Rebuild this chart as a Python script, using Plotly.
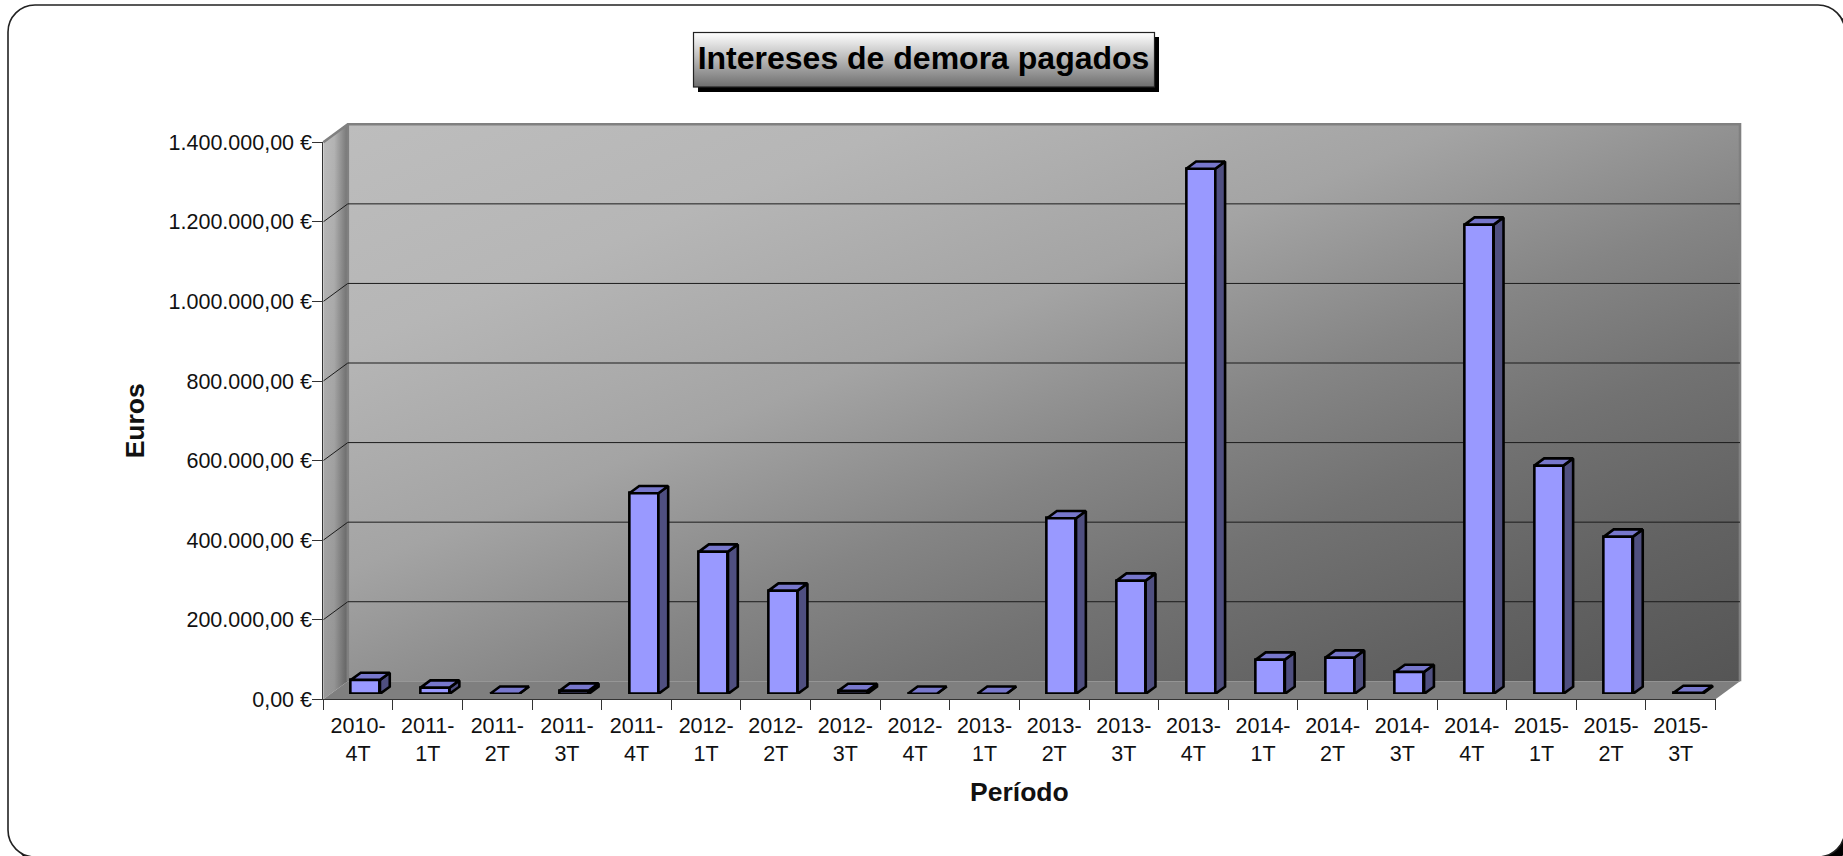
import base64
import plotly.graph_objects as go

# ---- data ----
periods = ["2010-4T", "2011-1T", "2011-2T", "2011-3T", "2011-4T", "2012-1T", "2012-2T",
           "2012-3T", "2012-4T", "2013-1T", "2013-2T", "2013-3T", "2013-4T", "2014-1T",
           "2014-2T", "2014-3T", "2014-4T", "2015-1T", "2015-2T", "2015-3T"]
values = [35200, 15800, 500, 8300, 504500, 357700, 259700, 7500, 500, 500, 441600,
          284800, 1320000, 86200, 91200, 55300, 1179600, 573800, 395400, 2500]
y_ticks = [0, 200000, 400000, 600000, 800000, 1000000, 1200000, 1400000]
y_tick_labels = ["0,00 €", "200.000,00 €", "400.000,00 €", "600.000,00 €", "800.000,00 €",
                 "1.000.000,00 €", "1.200.000,00 €", "1.400.000,00 €"]
title_text = "Intereses de demora pagados"
x_title = "Período"
y_title = "Euros"

# ---- layout geometry (pixels) ----
W, H = 1843, 856
L, R, T, B = 323.3, 1715.5, 142.3, 699.3
DX, DY = 24.5, 18.0              # 3D depth of the chart box
BAR_SHIFT = 0.30                 # bar front plane, share of the depth
BAR_DEPTH = 0.40                 # bar depth, share of the box depth
BAR_W_PX = 29.0

n = len(periods)
xrange_ = [-0.5, n - 0.5]
yrange_ = [0, 1400000]
px_x = (R - L) / n
px_y = (B - T) / yrange_[1]
FONT = "Liberation Sans"
INK = "#111111"
OUTLINE = 2.6


def background_svg():
    lw = f"{L},{B} {L + DX},{B - DY} {L + DX},{T - DY} {L},{T}"
    fl = f"{L},{B} {R},{B} {R + DX},{B - DY} {L + DX},{B - DY}"
    s = f"""<svg xmlns="http://www.w3.org/2000/svg" width="{W}" height="{H}" viewBox="0 0 {W} {H}">
<defs>
<linearGradient id="back" x1="0" y1="0" x2="1" y2="1">
<stop offset="0" stop-color="#bdbdbd"/><stop offset="0.2" stop-color="#b6b6b6"/>
<stop offset="0.4" stop-color="#a4a4a4"/><stop offset="0.57" stop-color="#858585"/>
<stop offset="0.7" stop-color="#727272"/><stop offset="0.85" stop-color="#626262"/>
<stop offset="1" stop-color="#555555"/></linearGradient>
<linearGradient id="sideV" x1="0" y1="0" x2="0" y2="1">
<stop offset="0" stop-color="#bdbdbd"/><stop offset="1" stop-color="#9a9a9a"/></linearGradient>
<linearGradient id="sideH" x1="0" y1="0" x2="1" y2="0">
<stop offset="0" stop-color="#000" stop-opacity="0"/><stop offset="0.45" stop-color="#000" stop-opacity="0.05"/>
<stop offset="1" stop-color="#000" stop-opacity="0.38"/></linearGradient>
<linearGradient id="ttl" x1="0" y1="0" x2="0" y2="1">
<stop offset="0" stop-color="#ffffff"/><stop offset="1" stop-color="#6e6e6e"/></linearGradient>
</defs>
<rect x="14" y="11" width="1837" height="852" rx="27" ry="27" fill="#000"/>
<rect x="8" y="5" width="1837" height="852" rx="27" ry="27" fill="#fff" stroke="#222" stroke-width="1.6"/>
<rect x="{L + DX}" y="{T - DY}" width="{R - L}" height="{B - T}" fill="url(#back)"/>
<polygon points="{lw}" fill="url(#sideV)"/>
<polygon points="{lw}" fill="url(#sideH)"/>
<polygon points="{fl}" fill="#7f7f7f"/>
<path d="M{L},{T} L{L + DX},{T - DY} L{R + DX},{T - DY} L{R + DX},{B - DY} M{L + DX},{T - DY} L{L + DX},{B - DY}"
 fill="none" stroke="#808080" stroke-width="2.6"/>
<rect x="698" y="37" width="461" height="55" fill="#000"/>
<rect x="693.5" y="32.5" width="461" height="54.5" fill="url(#ttl)" stroke="#222" stroke-width="1.2"/>
</svg>"""
    return "data:image/svg+xml;base64," + base64.b64encode(s.encode()).decode()


x_idx = list(range(n))
tick_labels = [p.replace("-", "-<br>") for p in periods]

# depth expressed in data units
dx_box, dy_box = DX / px_x, DY / px_y
dx_bar, dy_bar = BAR_DEPTH * DX / px_x, BAR_DEPTH * DY / px_y
bar_w = BAR_W_PX / px_x

# grid lines: diagonals on the side wall, horizontals on the back wall
dgx, dgy, bgx, bgy = [], [], [], []
for v in y_ticks:
    if 0 < v < yrange_[1]:
        dgx += [xrange_[0], xrange_[0] + dx_box, None]
        dgy += [v, v + dy_box, None]
        bgx += [xrange_[0], xrange_[1], None]
        bgy += [v, v, None]

# bar side and top faces
sx, sy, tx, ty = [], [], [], []
for i, v in zip(x_idx, values):
    a, b = i - bar_w / 2, i + bar_w / 2
    sx += [b, b + dx_bar, b + dx_bar, b, b, None]
    sy += [0, dy_bar, v + dy_bar, v, 0, None]
    tx += [a, b, b + dx_bar, a + dx_bar, a, None]
    ty += [v, v, v + dy_bar, v + dy_bar, v, None]

grid_line = dict(color="#1c1c1c", width=1)
fig = go.Figure()
fig.add_trace(go.Scatter(x=dgx, y=dgy, mode="lines", cliponaxis=False, hoverinfo="skip",
                         line=grid_line, showlegend=False))
fig.add_trace(go.Scatter(x=bgx, y=bgy, xaxis="x2", yaxis="y2", mode="lines", cliponaxis=False, hoverinfo="skip",
                         line=grid_line, showlegend=False))
fig.add_trace(go.Bar(x=x_idx, y=values, width=bar_w, xaxis="x3", yaxis="y3", cliponaxis=False,
                     marker=dict(color="#9999ff", line=dict(color="#000000", width=OUTLINE)),
                     showlegend=False, name="Intereses"))
fig.add_trace(go.Scatter(x=sx, y=sy, xaxis="x3", yaxis="y3", mode="lines", fill="toself", cliponaxis=False,
                         fillcolor="#4f4f80", line=dict(color="#000000", width=OUTLINE), hoverinfo="skip",
                         showlegend=False))
fig.add_trace(go.Scatter(x=tx, y=ty, xaxis="x3", yaxis="y3", mode="lines", fill="toself", cliponaxis=False,
                         fillcolor="#7777cc", line=dict(color="#000000", width=OUTLINE), hoverinfo="skip",
                         showlegend=False))

sx_px, sy_px = BAR_SHIFT * DX, BAR_SHIFT * DY
fig.update_layout(
    width=W, height=H, autosize=False,
    margin=dict(l=0, r=0, t=0, b=0, pad=0, autoexpand=False),
    paper_bgcolor="#ffffff", plot_bgcolor="rgba(0,0,0,0)",
    font=dict(family=FONT, size=21.5, color=INK),
    bargap=0,
    title=dict(text=f"<b>{title_text}</b>", x=923.5 / W, y=1 - 58 / H, xref="container", yref="container",
               xanchor="center", yanchor="middle", font=dict(family=FONT, size=32, color="#000000")),
    xaxis=dict(domain=[L / W, R / W], range=xrange_, anchor="y", tickmode="array", tickvals=x_idx, automargin=False,
               ticktext=tick_labels, ticks="outside", ticklen=10, tickcolor="rgba(0,0,0,0)", ticklabelstandoff=-3,
               minor=dict(tickmode="array", tickvals=[i - 0.5 for i in range(n + 1)], ticks="outside",
                          ticklen=10, tickcolor="#333333", tickwidth=1),
               showgrid=False, zeroline=False, showline=True, linecolor="#333333", linewidth=1,
               tickangle=0, title=dict(text=f"<b>{x_title}</b>", font=dict(size=26.5), standoff=17)),
    yaxis=dict(domain=[1 - B / H, 1 - T / H], range=yrange_, anchor="x", tickmode="array", tickvals=y_ticks,
               automargin=False, ticktext=y_tick_labels, ticks="outside", ticklen=10, tickcolor="#333333",
               ticklabelstandoff=-4,
               showgrid=False, zeroline=False, showline=True, linecolor="#333333", linewidth=1,
               title=dict(text=f"<b>{y_title}</b>", font=dict(size=26.5), standoff=16)),
    xaxis2=dict(domain=[(L + DX) / W, (R + DX) / W], range=xrange_, anchor="y2", visible=False, automargin=False),
    yaxis2=dict(domain=[1 - (B - DY) / H, 1 - (T - DY) / H], range=yrange_, anchor="x2", visible=False, automargin=False),
    xaxis3=dict(domain=[(L + sx_px) / W, (R + sx_px) / W], range=xrange_, anchor="y3", visible=False, automargin=False),
    yaxis3=dict(domain=[1 - (B - sy_px) / H, 1 - (T - sy_px) / H], range=yrange_, anchor="x3", visible=False, automargin=False),
    images=[dict(source=background_svg(), xref="paper", yref="paper", x=0, y=1, sizex=1, sizey=1,
                 sizing="stretch", xanchor="left", yanchor="top", layer="below")],
)

fig.write_html("out.html", config={"displayModeBar": False},
               post_script="document.body.style.margin='0';document.body.style.overflow='hidden';")
